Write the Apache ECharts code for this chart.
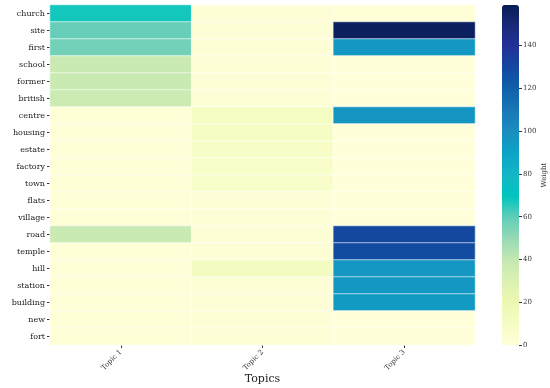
<!DOCTYPE html>
<html><head><meta charset="utf-8">
<script src="https://cdn.jsdelivr.net/npm/echarts@6/dist/echarts.min.js"></script>
<style>html,body{margin:0;padding:0;background:#fff}#c{width:550px;height:388px}</style>
</head><body><div id="c"></div>
<script>
const topics = ['Topic 1', 'Topic 2', 'Topic 3'];
const words = ['church','site','first','school','former','british','centre','housing','estate','factory','town','flats','village','road','temple','hill','station','building','new','fort'];
const topic1 = [68,59,57,38,38,37,1,1,1,1,1,1,1,38,1,1,1,1,1,1];
const topic2 = [2,2,2,2,2,2,11,10,8,7,7,2,2,2,2,12,2,2,2,2];
const topic3 = [1,158,96,0,0,0,97,0,0,0,0,0,0,131,129,96,96,95,0,0];
const weightTicks = [0,20,40,60,80,100,120,140];

const cols = [topic1, topic2, topic3];
const data = [];
cols.forEach((arr, xi) => arr.forEach((v, yi) => data.push([xi, yi, v])));

const serif = 'DejaVu Serif';
const chart = echarts.init(document.getElementById('c'));
chart.setOption({
  animation: false,
  grid: [
    {left: 50, right: 75, top: 5, bottom: 43, outerBoundsMode: 'none', containLabel: false},
    {left: 502, width: 17, top: 5, bottom: 43, outerBoundsMode: 'none', containLabel: false, z: 10}
  ],
  xAxis: [
    {type: 'category', data: topics, gridIndex: 0,
     axisLine: {show: false}, splitArea: {show: false},
     axisTick: {show: true, alignWithLabel: true, length: 3, lineStyle: {color: '#333'}},
     axisLabel: {rotate: 45, fontFamily: serif, fontSize: 7, color: '#333', margin: 6},
     name: 'Topics', nameLocation: 'middle', nameGap: 29, nameMoveOverlap: false,
     nameTextStyle: {fontFamily: serif, fontSize: 11, color: '#222'}},
    {type: 'value', gridIndex: 1, show: false, min: 0, max: 1}
  ],
  yAxis: [
    {type: 'category', data: words, inverse: true, gridIndex: 0,
     axisLine: {show: false}, splitArea: {show: false},
     axisTick: {show: true, alignWithLabel: true, length: 3, lineStyle: {color: '#333'}},
     axisLabel: {fontFamily: serif, fontSize: 8, color: '#222', margin: 5},
     name: 'Words', nameLocation: 'middle', nameGap: 38, nameRotate: 90,
     nameTextStyle: {fontFamily: serif, fontSize: 11, color: '#222'}},
    {type: 'value', gridIndex: 1, position: 'right', min: 0, max: 159,
     interval: 20, axisLine: {show: false, onZero: false}, splitLine: {show: false},
     axisTick: {show: true, length: 3, customValues: weightTicks, lineStyle: {color: '#333'}},
     axisLabel: {fontFamily: serif, fontSize: 7, color: '#333', margin: 4, customValues: weightTicks},
     name: 'Weight', nameLocation: 'middle', nameGap: 22, nameRotate: 90,
     nameTextStyle: {fontFamily: serif, fontSize: 7, color: '#333'}}
  ],
  visualMap: {
    type: 'continuous', min: 0, max: 160, calculable: false, seriesIndex: 0,
    orient: 'vertical', left: 502, top: 5, itemWidth: 17, itemHeight: 340,
    padding: 0, text: null, showLabel: false, hoverLink: false, textStyle: {fontSize: 0},
    indicatorSize: 0, indicatorStyle: {opacity: 0}, handleStyle: {opacity: 0},
    inRange: {color: ['#ffffd9','#f6fcc4','#edf8b1','#dbf1b2','#c4e8b2','#96dab5','#62cdb9','#00c5be','#14b6c6','#0aa4c5','#1a8fc0','#1a78b6','#0f62ab','#124aa0','#23329a','#1a2a7a','#081d58']}
  },
  series: [
    {type: 'heatmap', xAxisIndex: 0, yAxisIndex: 0, data: data,
     itemStyle: {borderColor: '#ffffff', borderWidth: 0.6}}
  ]
});
</script></body></html>
